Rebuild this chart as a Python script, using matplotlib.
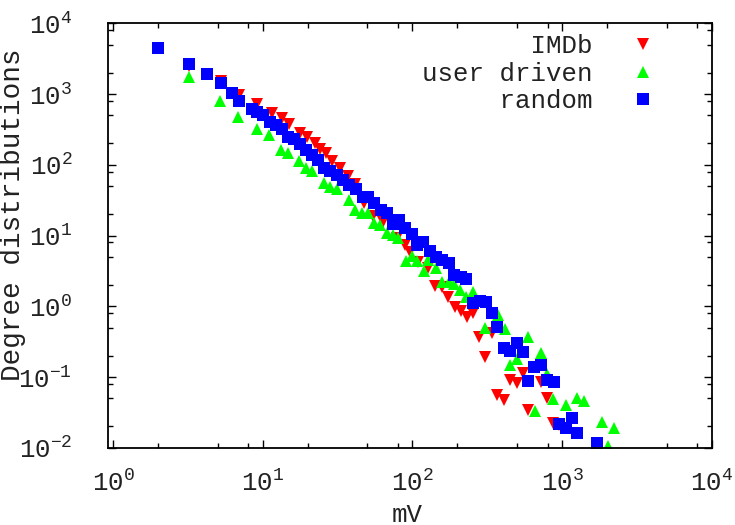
import numpy as np
import matplotlib
matplotlib.use("Agg")
import matplotlib.pyplot as plt
from matplotlib.ticker import LogLocator, FuncFormatter, NullFormatter

plt.rcParams['font.family'] = ['Liberation Mono', 'DejaVu Sans']
plt.rcParams['mathtext.fontset'] = 'custom'
plt.rcParams['mathtext.rm'] = 'Liberation Mono'
plt.rcParams['mathtext.it'] = 'Liberation Mono'
plt.rcParams['mathtext.default'] = 'regular'

# degree distributions (log-binned)
imdb_mv = [3.23, 5.24, 6.95, 9.12, 11.5, 13.4, 15.1, 17.8, 19.9, 22.4,
           24.1, 26.5, 28.9, 32.8, 37.2, 41.4, 47.5, 54.8, 63.9, 78.5,
           89.3, 96.4, 109, 127, 142, 157, 174, 193, 213, 231,
           255, 280, 305, 339, 369, 411, 449, 498, 546, 594,
           719, 789, 873, 958]
imdb_deg = [2490, 1530, 968, 722, 533, 453, 377, 278, 244, 201,
            165, 145, 114, 88.9, 69.2, 53.3, 28.7, 18.8, 15.5, 9.10,
            7.31, 5.88, 4.25, 3.42, 1.92, 1.85, 1.36, 0.986, 0.853, 0.708,
            0.807, 0.369, 0.189, 0.412, 0.0552, 0.0470, 0.0901, 0.0826, 0.114, 0.0339,
            0.0853, 0.0497, 0.0220, 0.0208]

user_mv = [3.23, 5.19, 6.87, 9.12, 11.1, 13.2, 14.7, 17.6, 19.5, 21.4,
           25.7, 28.2, 31.5, 37.9, 41.4, 46.0, 50.7, 55.4, 60.8, 67.6,
           73.8, 80.5, 91.0, 98.9, 108, 119, 128, 144, 158, 175,
           189, 209, 228, 254, 305, 371, 416, 449, 498, 594,
           659, 719, 789, 873, 1057, 1264, 1400, 1857, 2036, 2233]
user_deg = [1760, 804, 473, 322, 263, 161, 148, 113, 90.6, 81.5,
            54.6, 48.9, 45.3, 31.3, 22.6, 20.5, 20.5, 15.1, 14.0, 10.9,
            10.3, 9.33, 4.42, 5.20, 4.35, 3.18, 4.49, 3.42, 2.19, 2.21,
            2.06, 1.69, 1.34, 1.60, 0.485, 0.748, 0.470, 0.147, 0.177, 0.369,
            0.0331, 0.215, 0.112, 0.0485, 0.0408, 0.0506, 0.0459, 0.0232, 0.0105, 0.0187]

random_mv = [2.0, 3.23, 4.27, 5.24, 6.27, 6.92, 8.45, 9.12, 10.1, 11.2,
             12.2, 13.4, 14.8, 16.2, 17.8, 19.5, 21.4, 23.5, 25.7, 28.2,
             31.5, 34.5, 37.9, 42.0, 46.6, 50.7, 55.7, 61.4, 67.3, 74.5,
             81.8, 89.7, 98.9, 108, 118, 131, 145, 159, 175, 190,
             210, 228, 255, 283, 310, 339, 369, 409, 449, 498,
             546, 594, 652, 719, 796, 883, 958, 1057, 1159, 1264,
             1703]
random_deg = [4430, 2630, 1900, 1420, 1040, 789, 608, 562, 505, 398,
              365, 317, 249, 229, 196, 161, 137, 116, 88.9, 82.2,
              71.5, 60.8, 51.6, 45.3, 35.2, 35.2, 28.4, 22.9, 20.5, 14.5,
              16.5, 12.6, 10.5, 7.31, 8.15, 6.08, 4.90, 4.49, 4.11, 2.75,
              2.61, 2.42, 1.10, 1.19, 1.13, 0.791, 0.501, 0.253, 0.234, 0.303,
              0.226, 0.0873, 0.139, 0.147, 0.0901, 0.0836, 0.0215, 0.0193, 0.0267, 0.0159,
              0.0115]

series_labels = ["IMDb", "user driven", "random"]

fs = 18.5
fig = plt.figure(figsize=(7.35, 5.25), dpi=100)
ax = fig.add_axes([0.1473, 0.1472, 0.8210, 0.8084])

width = max(len(s) for s in series_labels)
ax.plot(imdb_mv, imdb_deg, ls='none', marker='v', ms=9.0, mew=0,
        color='#ff0000', label=series_labels[0].rjust(width))
ax.plot(user_mv, user_deg, ls='none', marker='^', ms=9.0, mew=0,
        color='#00ff00', label=series_labels[1].rjust(width))
ax.plot(random_mv, random_deg, ls='none', marker='s', ms=8.0, mew=0,
        color='#0000ff', label=series_labels[2].rjust(width))

ax.set_xscale('log')
ax.set_yscale('log')
ax.set_xlim(0.93, 1e4)
ax.set_ylim(1e-2, 1e4)

def sci(v, pos):
    return r"$10^{%d}$" % int(round(np.log10(v)))

for axis in (ax.xaxis, ax.yaxis):
    axis.set_major_locator(LogLocator(base=10, numticks=20))
    axis.set_minor_locator(LogLocator(base=10, subs=(2.0, 5.0, 8.0), numticks=20))
    axis.set_major_formatter(FuncFormatter(sci))
    axis.set_minor_formatter(NullFormatter())

ax.tick_params(which='both', direction='in', top=True, right=True, width=1.0,
               labelsize=fs, color='black', labelcolor='#222222')
ax.tick_params(which='major', length=6)
ax.tick_params(which='minor', length=3.5)
ax.tick_params(axis='x', which='major', pad=16)
ax.tick_params(axis='y', which='major', pad=26)
for sp in ax.spines.values():
    sp.set_linewidth(1.3)

ax.set_xlabel("mV", fontsize=fs, color='#222222')
ax.xaxis.set_label_coords(0.495, -0.131)
ax.set_ylabel("Degree distributions", fontsize=20, color='#222222')
ax.yaxis.set_label_coords(-0.136, 0.55)

leg = ax.legend(loc='upper right', bbox_to_anchor=(0.9075, 0.975),
                frameon=False, markerfirst=False, fontsize=fs,
                handlelength=1.0, handletextpad=1.48, borderpad=0,
                borderaxespad=0, labelspacing=0.14, numpoints=1)
for t in leg.get_texts():
    t.set_color('#222222')

fig.savefig("out.png", dpi=100)
